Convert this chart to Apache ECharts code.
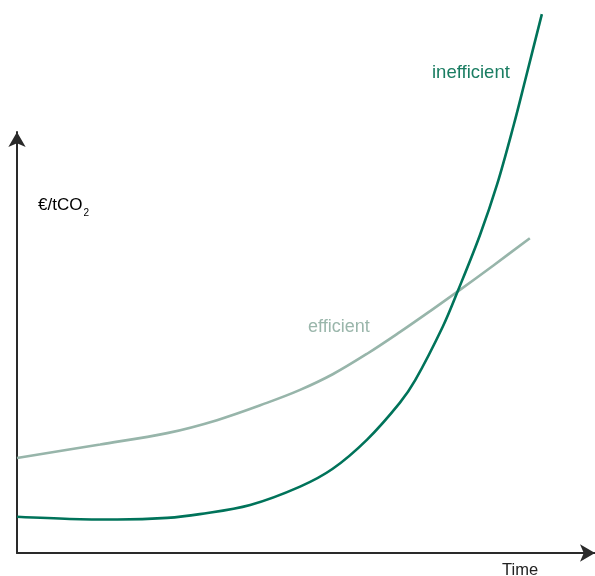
<!DOCTYPE html>
<html>
<head>
<meta charset="utf-8">
<script src="https://cdn.jsdelivr.net/npm/echarts@6/dist/echarts.min.js"></script>
<style>html,body{margin:0;padding:0;background:#fff;}#c{width:595px;height:576px;}</style>
</head>
<body>
<div id="c"></div>
<script>
var timeEfficient = [0, 14.5, 26.2, 34.9, 43.6, 49.4, 55.1, 61.1, 66.8, 72.1, 77.0, 83.2, 89.5];
var costEfficient = [17.6, 20.1, 22.2, 24.6, 27.8, 30.2, 33.1, 36.9, 40.9, 44.8, 48.5, 53.3, 58.3];
var timeInefficient = [0, 9.2, 17.5, 26.2, 31.9, 40.7, 49.4, 55.1, 61.1, 66.8, 69.5, 74.3, 77.0, 80.8, 83.8, 86.7, 88.7, 91.6];
var costInefficient = [6.7, 6.3, 6.2, 6.5, 7.2, 8.9, 12.3, 15.6, 21.0, 27.8, 32.0, 41.9, 48.7, 58.9, 68.3, 79.3, 87.6, 99.8];
var seriesNames = ['efficient', 'inefficient'];
var axisTitles = ['Time', '€/tCO', '2'];

function pairs(xs, ys) { return xs.map(function (x, i) { return [x, ys[i]]; }); }

var chart = echarts.init(document.getElementById('c'));
var FONT = '"Liberation Sans", Arial, sans-serif';
var axisStyle = {
  show: true, symbol: ['none', 'arrow'], symbolSize: [13, 15],
  lineStyle: { color: '#2a2a2a', width: 2 }
};
chart.setOption({
  animation: false,
  textStyle: { fontFamily: FONT },
  grid: [
    { left: 17, right: 5, top: 13, bottom: 23 },
    { left: 17, right: 0, top: 132, bottom: 23 }
  ],
  xAxis: [
    { gridIndex: 0, type: 'value', min: 0, max: 100, show: false },
    { gridIndex: 1, type: 'value', min: 0, max: 100, axisLine: axisStyle,
      axisTick: { show: false }, axisLabel: { show: false }, splitLine: { show: false } }
  ],
  yAxis: [
    { gridIndex: 0, type: 'value', min: 0, max: 100, show: false },
    { gridIndex: 1, type: 'value', min: 0, max: 100, axisLine: axisStyle,
      axisTick: { show: false }, axisLabel: { show: false }, splitLine: { show: false } }
  ],
  series: [
    { name: seriesNames[0], type: 'line', xAxisIndex: 0, yAxisIndex: 0, smooth: 0.35, showSymbol: false,
      lineStyle: { color: '#97b5aa', width: 2.6 }, data: pairs(timeEfficient, costEfficient), clip: false },
    { name: seriesNames[1], type: 'line', xAxisIndex: 0, yAxisIndex: 0, smooth: 0.35, showSymbol: false,
      lineStyle: { color: '#00735a', width: 2.6 }, data: pairs(timeInefficient, costInefficient), clip: false }
  ],
  graphic: [
    { type: 'text', left: 432, top: 63, style: { text: seriesNames[1], fill: '#1a7d62', font: '18.5px ' + FONT } },
    { type: 'text', left: 308, top: 318, style: { text: seriesNames[0], fill: '#9ab6ab', font: '18px ' + FONT } },
    { type: 'text', left: 502, top: 562, style: { text: axisTitles[0], fill: '#222', font: '16.5px ' + FONT } },
    { type: 'text', left: 38, top: 197, style: {
        text: '{a|' + axisTitles[1] + '}{b|' + axisTitles[2] + '}',
        rich: { a: { fontSize: 17, fontFamily: FONT, color: '#222' },
                b: { fontSize: 10, fontFamily: FONT, color: '#222', verticalAlign: 'bottom', padding: [16, 0, 0, 1] } } } }
  ]
});
</script>
</body>
</html>
